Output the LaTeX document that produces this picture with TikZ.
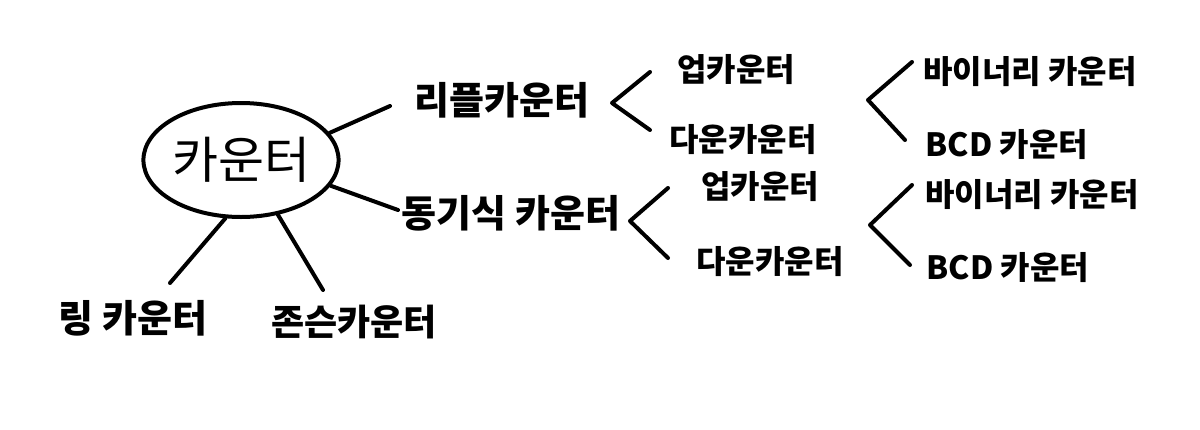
\documentclass[tikz,border=0pt]{standalone}
\usepackage{fontspec}
\newfontfamily\kr{Noto Sans CJK KR}
\usetikzlibrary{shapes.geometric}
\begin{document}
\begin{tikzpicture}[x=0.5pt,y=-0.5pt,
  conn/.style={line width=2pt,line cap=round,line join=round},
  biglbl/.style={font=\kr\bfseries\fontsize{19}{22}\selectfont,inner sep=0pt},
  lbl/.style={font=\kr\bfseries\fontsize{16}{19}\selectfont,inner sep=0pt}]
\useasboundingbox (0,0) rectangle (1200,429);
\fill[white] (0,0) rectangle (1200,429);
% centre
\node[ellipse,draw,line width=2pt,minimum width=88pt,minimum height=57pt,inner sep=0pt,
      font=\kr\fontsize{25}{29}\selectfont] (c) at (241,160) {카운터};
% first level
\node[biglbl] (ripple) at (502,100) {리플카운터};
\node[biglbl] (sync) at (511,213) {동기식 카운터};
\node[biglbl] (ring) at (133,318) {링 카운터};
\node[biglbl,font=\kr\bfseries\fontsize{18}{21}\selectfont] (john) at (354,322) {존슨카운터};
% second level
\node[lbl] (up1) at (736,70) {업카운터};
\node[lbl] (down1) at (743,140) {다운카운터};
\node[lbl] (up2) at (760,187) {업카운터};
\node[lbl] (down2) at (770,262) {다운카운터};
% third level
\node[lbl] (bin1) at (1030,72) {바이너리 카운터};
\node[lbl] (bcd1) at (1007,145) {BCD 카운터};
\node[lbl] (bin2) at (1032,195) {바이너리 카운터};
\node[lbl] (bcd2) at (1008,268) {BCD 카운터};
% bracket apexes
\coordinate (a1) at (612,103);
\coordinate (a2) at (868,100);
\coordinate (a3) at (630,221);
\coordinate (a4) at (870,225);
% connectors from centre
\draw[conn] (c.17) -- ([shift={(-112,6)}]ripple.center);
\draw[conn] (c.-16) -- ([shift={(-113,-3)}]sync.center);
\draw[conn] (c.255) -- ([shift={(37,-35)}]ring.center);
\draw[conn] (c.304) -- ([shift={(-31,-32)}]john.center);
% brackets
\draw[conn] ([shift={(-86,2)}]up1.center) -- (a1) -- ([shift={(-93,-10)}]down1.center);
\draw[conn] ([shift={(-118,-10)}]bin1.center) -- (a2) -- ([shift={(-102,-5)}]bcd1.center);
\draw[conn] ([shift={(-92,1)}]up2.center) -- (a3) -- ([shift={(-102,-4)}]down2.center);
\draw[conn] ([shift={(-120,-10)}]bin2.center) -- (a4) -- ([shift={(-98,-3)}]bcd2.center);
\end{tikzpicture}
\end{document}
